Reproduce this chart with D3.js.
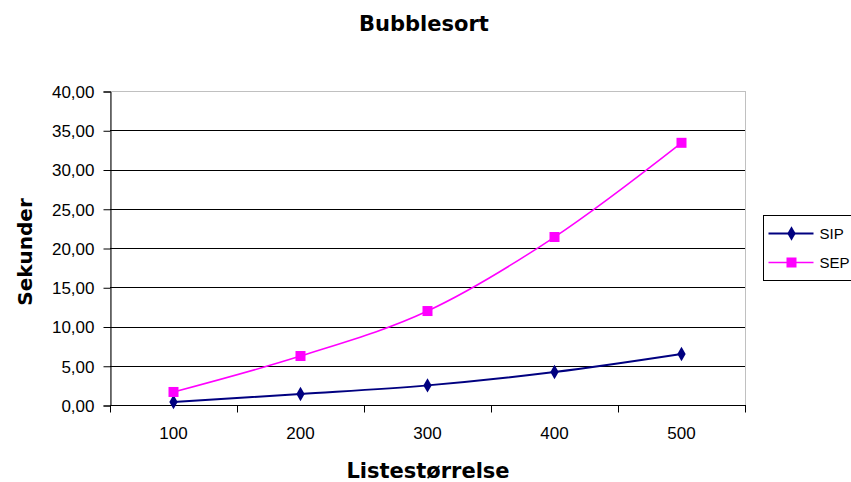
<!DOCTYPE html>
<html>
<head>
<meta charset="utf-8">
<script src="https://cdn.jsdelivr.net/npm/d3@7"></script>
<style>
  body { margin: 0; background: #fff; }
  svg { display: block; font-family: "Liberation Sans", Arial, sans-serif; }
</style>
</head>
<body>
<svg id="chart" width="851" height="482"></svg>
<script>
// Bubblesort timings in seconds by list size
const categories = ["100", "200", "300", "400", "500"];
const sipValues = [0.38, 1.40, 2.50, 4.20, 6.50];
const sepValues = [1.66, 6.24, 11.97, 21.40, 33.40];
const yTicks = [0, 5, 10, 15, 20, 25, 30, 35, 40];
const seriesNames = ["SIP", "SEP"];

const svg = d3.select("#chart");
const plotLeft = 110, plotRight = 745, plotTop = 91, plotBottom = 405;
const labelFont = "Liberation Sans, Arial, sans-serif";
const titleFont = "DejaVu Sans, Verdana, sans-serif";

const x = d3.scaleBand().domain(categories).range([plotLeft, plotRight]).padding(0);
const y = d3.scaleLinear().domain([0, 40]).range([plotBottom, plotTop]);

// Plot area frame (light grey)
svg.append("rect")
  .attr("x", plotLeft + 0.5).attr("y", plotTop + 0.5)
  .attr("width", plotRight - plotLeft).attr("height", plotBottom - plotTop)
  .attr("fill", "#fff").attr("stroke", "#c0c0c0").attr("stroke-width", 1);

// Horizontal gridlines
svg.append("g").selectAll("line")
  .data(yTicks.filter(t => t > 0 && t < 40))
  .join("line")
  .attr("x1", plotLeft).attr("x2", plotRight)
  .attr("y1", d => Math.round(y(d)) + 0.5).attr("y2", d => Math.round(y(d)) + 0.5)
  .attr("stroke", "#000").attr("stroke-width", 1);

// Y axis
const yAxis = d3.axisLeft(y).tickValues(yTicks).tickSize(7).tickPadding(9)
  .tickFormat(d => d3.format(".2f")(d).replace(".", ","));
const gy = svg.append("g").attr("transform", `translate(${plotLeft + 0.5},0.5)`).call(yAxis);
gy.attr("font-size", null).attr("font-family", null);
gy.select(".domain").attr("stroke", "#000");
gy.selectAll(".tick line").attr("stroke", "#000");
gy.selectAll(".tick text").style("font-size", "17px").attr("fill", "#000")
  .style("font-family", labelFont).attr("dy", "0.34em");

// X axis with tick marks on category boundaries
const gx = svg.append("g").attr("transform", `translate(0,${plotBottom + 0.5})`);
gx.append("line").attr("x1", plotLeft).attr("x2", plotRight + 1).attr("y1", 0).attr("y2", 0).attr("stroke", "#000");
const boundaries = categories.map(c => x(c)).concat([x(categories[categories.length - 1]) + x.bandwidth()]);
gx.selectAll(".bt").data(boundaries).join("line")
  .attr("x1", d => Math.round(d) + 0.5).attr("x2", d => Math.round(d) + 0.5)
  .attr("y1", 0).attr("y2", 7).attr("stroke", "#000");
gx.selectAll("text").data(categories).join("text")
  .attr("x", d => x(d) + x.bandwidth() / 2)
  .attr("y", 33)
  .attr("text-anchor", "middle").style("font-size", "17px").style("font-family", labelFont).attr("fill", "#000")
  .text(d => d);

const cx = c => x(c) + x.bandwidth() / 2;
const line = d3.line().x(d => cx(d.c)).y(d => y(d.v)).curve(d3.curveCatmullRom.alpha(0));

const sip = categories.map((c, i) => ({ c, v: sipValues[i] }));
const sep = categories.map((c, i) => ({ c, v: sepValues[i] }));

const colors = { SIP: "#000080", SEP: "#ff00ff" };
const diamond = d3.symbol().type(d3.symbolDiamond).size(60);

svg.append("path").datum(sip).attr("d", line)
  .attr("fill", "none").attr("stroke", colors.SIP).attr("stroke-width", 2);
svg.append("path").datum(sep).attr("d", line)
  .attr("fill", "none").attr("stroke", colors.SEP).attr("stroke-width", 1.5);

svg.append("g").selectAll("path").data(sip).join("path")
  .attr("transform", d => `translate(${cx(d.c)},${y(d.v)})`)
  .attr("d", diamond).attr("fill", colors.SIP);
svg.append("g").selectAll("rect").data(sep).join("rect")
  .attr("x", d => cx(d.c) - 5).attr("y", d => y(d.v) - 5)
  .attr("width", 10).attr("height", 10).attr("fill", colors.SEP);

// Titles
svg.append("text").attr("x", 424).attr("y", 31).attr("text-anchor", "middle")
  .style("font-size", "21px").style("font-weight", "bold").style("font-family", titleFont)
  .attr("fill", "#000").text("Bubblesort");
svg.append("text").attr("x", 428).attr("y", 478).attr("text-anchor", "middle")
  .style("font-size", "21px").style("font-weight", "bold").style("font-family", titleFont)
  .attr("fill", "#000").text("Listestørrelse");
svg.append("text").attr("transform", "translate(32,252) rotate(-90)").attr("text-anchor", "middle")
  .style("font-size", "20px").style("font-weight", "bold").style("font-family", titleFont)
  .attr("fill", "#000").text("Sekunder");

// Legend
const lg = svg.append("g").attr("transform", "translate(763.5,215.5)");
lg.append("rect").attr("width", 100).attr("height", 65).attr("fill", "#fff").attr("stroke", "#000");
seriesNames.forEach((name, i) => {
  const yy = 18 + i * 29;
  lg.append("line").attr("x1", 5).attr("x2", 50).attr("y1", yy).attr("y2", yy)
    .attr("stroke", colors[name]).attr("stroke-width", name === "SIP" ? 2 : 1.5);
  if (name === "SIP") {
    lg.append("path").attr("transform", `translate(28,${yy})`).attr("d", diamond).attr("fill", colors[name]);
  } else {
    lg.append("rect").attr("x", 23).attr("y", yy - 5).attr("width", 10).attr("height", 10).attr("fill", colors[name]);
  }
  lg.append("text").attr("x", 56).attr("y", yy + 5).style("font-size", "15px").style("font-family", labelFont)
    .attr("fill", "#000").text(name);
});
</script>
</body>
</html>
